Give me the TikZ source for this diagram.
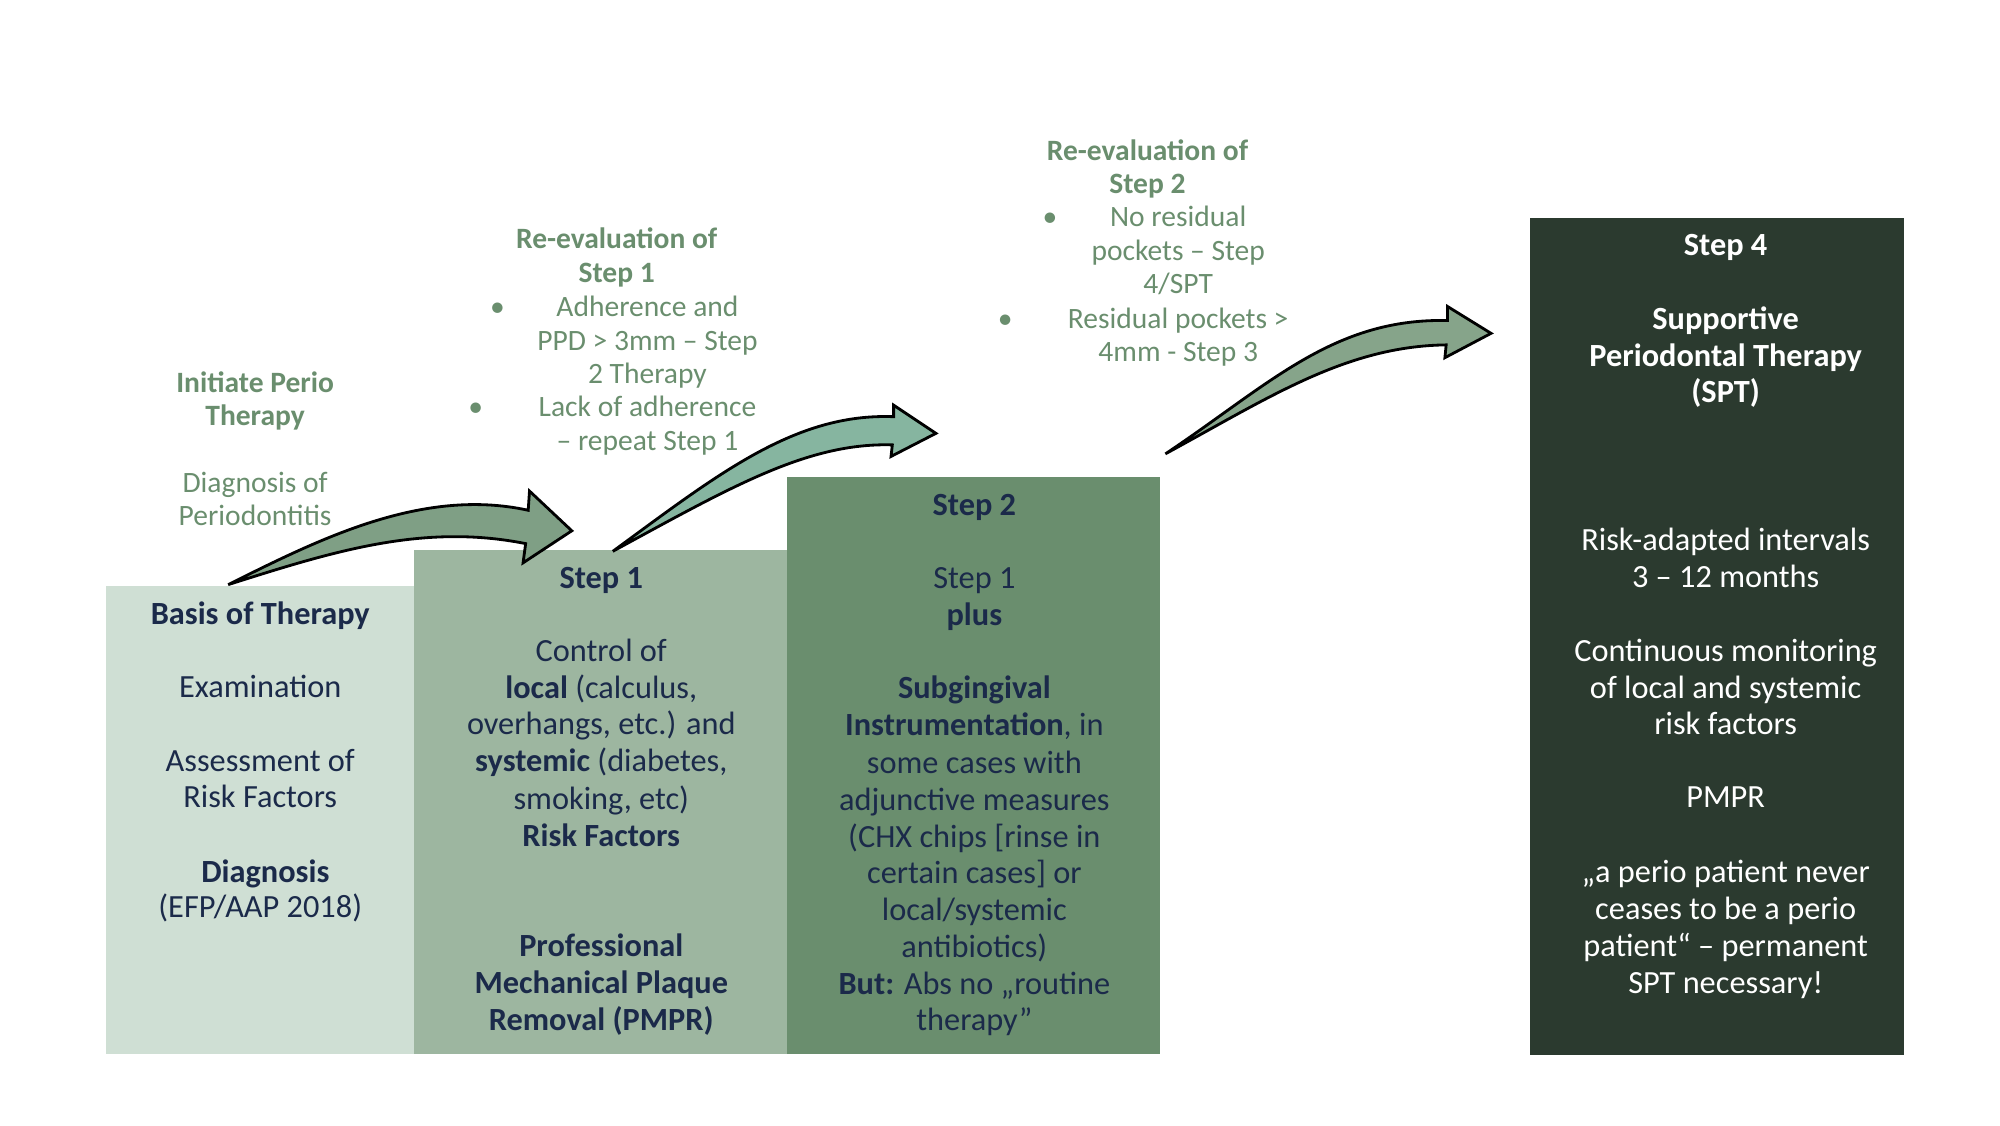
\documentclass[tikz,border=0pt]{standalone}
\usepackage{fontspec}
\setmainfont{Carlito}
\begin{document}
\begin{tikzpicture}[x=0.01282cm,y=-0.01282cm,
  box/.style={draw=none},
  t/.style={anchor=base,inner sep=0pt,font=\fontsize{9.2}{11}\selectfont,text=navy},
  w/.style={t,text=white},
  g/.style={anchor=base,inner sep=0pt,font=\fontsize{8.4}{10}\selectfont,text=lgreen},
  arr/.style={draw=black,line width=0.8pt,line join=miter}]
\definecolor{navy}{HTML}{1B2A4A}
\definecolor{lgreen}{HTML}{6A8E6E}
\definecolor{c0}{HTML}{CFDFD4}
\definecolor{c1}{HTML}{9DB6A0}
\definecolor{c2}{HTML}{6A8E6E}
\definecolor{c4}{HTML}{2B3A2F}
\definecolor{a1}{HTML}{7F9F85}
\definecolor{a2}{HTML}{86B5A0}
\definecolor{a3}{HTML}{86A48A}
\useasboundingbox (0,0) rectangle (1560,877.5);
\fill[c0] (83,457) rectangle (323,822);
\fill[c1] (323,429) rectangle (614,822);
\fill[c2] (614,372) rectangle (905,822);
\fill[c4] (1193,170) rectangle (1485,823);
% arrows
\filldraw[arr,fill=a1] (178,456) .. controls (250,420) and (330,380) .. (412,398) -- (413,383) -- (446,414) -- (408,439) -- (410,424) .. controls (330,408) and (260,430) .. cycle;
\filldraw[arr,fill=a2] (478,430) .. controls (560,370) and (620,322) .. (697,325) -- (697,316) -- (730,338) -- (695,356) -- (696,347) .. controls (630,345) and (570,380) .. cycle;
\filldraw[arr,fill=a3] (909,354) .. controls (990,300) and (1040,248) .. (1129,250) -- (1129,239) -- (1163,260) -- (1127,279) -- (1128,269) .. controls (1050,270) and (990,310) .. cycle;
% green labels
\node[g] (i1) at (199,306) {\bfseries Initiate Perio};
\node[g] (i2) at (199,332) {\bfseries Therapy};
\node[g] (i3) at (199,384) {Diagnosis of};
\node[g] (i4) at (199,410) {Periodontitis};
\node[g] (r1) at (481,194) {\bfseries Re-evaluation of};
\node[g] (r2) at (481,220) {\bfseries Step 1};
\node[g] (b1) at (388,247) {•};
\node[g] (r3) at (505,247) {Adherence and};
\node[g] (r4) at (505,273) {PPD > 3mm – Step};
\node[g] (r5) at (505,299) {2 Therapy};
\node[g] (b2) at (371,325) {•};
\node[g] (r6) at (505,325) {Lack of adherence};
\node[g] (r7) at (505,351) {– repeat Step 1};
\node[g] (s1) at (895,125) {\bfseries Re-evaluation of};
\node[g] (s2) at (895,151) {\bfseries Step 2};
\node[g] (b3) at (819,177) {•};
\node[g] (s3) at (919,177) {No residual};
\node[g] (s4) at (919,203) {pockets – Step};
\node[g] (s5) at (919,229) {4/SPT};
\node[g] (b4) at (784,256) {•};
\node[g] (s6) at (919,256) {Residual pockets >};
\node[g] (s7) at (919,282) {4mm - Step 3};
% Basis
\node[t] (a1t) at (203,487) {\bfseries Basis of Therapy};
\node[t] (a2t) at (203,544) {Examination};
\node[t] (a3t) at (203,602) {Assessment of};
\node[t] (a4t) at (203,630) {Risk Factors};
\node[t] (a5t) at (207,688) {\bfseries Diagnosis};
\node[t] (a6t) at (203,716) {(EFP/AAP 2018)};
% Step 1
\node[t] (p1) at (469,459) {\bfseries Step 1};
\node[t] (p2) at (469,516) {Control of};
\node[t] (p3) at (469,545) {\textbf{local} (calculus,};
\node[t] (p4) at (469,573) {overhangs, etc.) and};
\node[t] (p5) at (469,602) {\textbf{systemic} (diabetes,};
\node[t] (p6) at (469,631) {smoking, etc)};
\node[t] (p7) at (469,660) {\bfseries Risk Factors};
\node[t] (p8) at (469,746) {\bfseries Professional};
\node[t] (p9) at (469,775) {\bfseries Mechanical Plaque};
\node[t] (p10) at (469,804) {\bfseries Removal (PMPR)};
% Step 2
\node[t] (q1) at (760,402) {\bfseries Step 2};
\node[t] (q2) at (760,459) {Step 1};
\node[t] (q3) at (760,488) {\bfseries plus};
\node[t] (q4) at (760,545) {\bfseries Subgingival};
\node[t] (q5) at (760,574) {\textbf{Instrumentation}, in};
\node[t] (q6) at (760,603) {some cases with};
\node[t] (q7) at (760,632) {adjunctive measures};
\node[t] (q8) at (760,661) {(CHX chips [rinse in};
\node[t] (q9) at (760,689) {certain cases] or};
\node[t] (q10) at (760,718) {local/systemic};
\node[t] (q11) at (760,747) {antibiotics)};
\node[t] (q12) at (760,776) {\textbf{But:} Abs no „routine};
\node[t] (q13) at (760,804) {therapy”};
% Step 4
\node[w] (z1) at (1346,199) {\bfseries Step 4};
\node[w] (z2) at (1346,257) {\bfseries Supportive};
\node[w] (z3) at (1346,286) {\bfseries Periodontal Therapy};
\node[w] (z4) at (1346,314) {\bfseries (SPT)};
\node[w] (z5) at (1346,429) {Risk-adapted intervals};
\node[w] (z6) at (1346,458) {3 – 12 months};
\node[w] (z7) at (1346,516) {Continuous monitoring};
\node[w] (z8) at (1346,545) {of local and systemic};
\node[w] (z9) at (1346,573) {risk factors};
\node[w] (z10) at (1346,630) {PMPR};
\node[w] (z11) at (1346,688) {„a perio patient never};
\node[w] (z12) at (1346,717) {ceases to be a perio};
\node[w] (z13) at (1346,746) {patient“ – permanent};
\node[w] (z14) at (1346,775) {SPT necessary!};
\end{tikzpicture}
\end{document}
